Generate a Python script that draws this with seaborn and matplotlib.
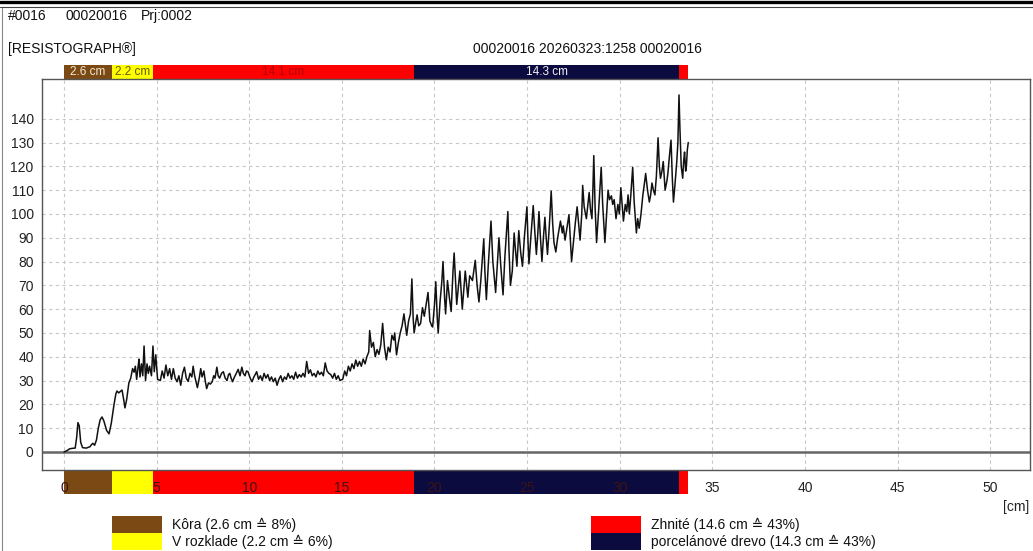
import numpy as np
import pandas as pd
import matplotlib
matplotlib.use("Agg")
import matplotlib.pyplot as plt
from matplotlib.ticker import FixedLocator
import seaborn as sns

# --- drilling profile (depth in cm, amplitude) ---
DEPTH_CM = [
    0.0, 0.15, 0.3, 0.45, 0.6, 0.68, 0.75, 0.82, 0.9, 1.0, 1.2, 1.4, 1.5, 1.56, 1.65,
    1.75, 1.85, 1.95, 2.05, 2.15, 2.3, 2.43, 2.55, 2.7, 2.8, 2.86, 2.95, 3.05, 3.13,
    3.22, 3.29, 3.38, 3.5, 3.6, 3.7, 3.78, 3.85, 3.92, 4.0, 4.05, 4.1, 4.18, 4.25,
    4.32, 4.4, 4.48, 4.55, 4.62, 4.72, 4.8, 4.87, 4.95, 5.05,
    5.2, 5.3, 5.4, 5.5, 5.6, 5.7, 5.8, 5.9, 6.0, 6.1, 6.2, 6.3, 6.4, 6.5, 6.6, 6.7,
    6.8, 6.9, 6.97, 7.05, 7.2, 7.3, 7.38, 7.45, 7.55, 7.62, 7.7, 7.8, 7.9, 8.0, 8.08,
    8.15, 8.25, 8.32, 8.4, 8.5, 8.6, 8.7, 8.8, 8.88, 8.95, 9.02, 9.1, 9.2, 9.3, 9.4,
    9.5, 9.6, 9.68, 9.77, 9.85, 9.93, 10.05, 10.15, 10.25, 10.4,
    10.5, 10.6, 10.7, 10.8, 10.9, 11.0, 11.1, 11.2, 11.3, 11.4, 11.5, 11.6, 11.7,
    11.8, 11.9, 12.0, 12.1, 12.2, 12.3, 12.4, 12.5, 12.6, 12.7, 12.8, 12.9, 13.0,
    13.1, 13.2, 13.3, 13.4, 13.5, 13.6, 13.7, 13.8, 13.9, 14.0, 14.1, 14.2, 14.3,
    14.4, 14.5, 14.6, 14.7, 14.8, 14.9, 15.05, 15.15, 15.25, 15.35, 15.45, 15.55,
    15.65, 15.75, 15.85, 15.95, 16.05, 16.15, 16.25, 16.35, 16.45, 16.5, 16.6, 16.7,
    16.8, 16.9, 17.0, 17.1, 17.2, 17.3, 17.4, 17.5, 17.6, 17.7, 17.8, 17.85, 17.95,
    18.05, 18.15, 18.25, 18.35, 18.45, 18.5, 18.6, 18.7, 18.78, 18.85, 18.9, 19.0,
    19.06, 19.15, 19.25, 19.35, 19.45, 19.55, 19.65, 19.75, 19.85, 19.9, 20.0, 20.07,
    20.15, 20.2, 20.3, 20.4, 20.46, 20.55, 20.6, 20.7, 20.8, 20.9, 21.0, 21.06, 21.15,
    21.2, 21.3, 21.37, 21.45, 21.5, 21.6, 21.66, 21.75, 21.8, 21.9, 22.05, 22.2, 22.3,
    22.4, 22.5, 22.66, 22.72, 22.8, 22.9, 23.05, 23.15, 23.3, 23.4, 23.48, 23.58, 23.7,
    23.8, 23.96, 24.02, 24.1, 24.2, 24.3, 24.38, 24.45, 24.55, 24.65, 24.75, 24.85,
    24.99, 25.05, 25.1, 25.2, 25.33, 25.42, 25.5, 25.58, 25.64, 25.72, 25.8, 25.88,
    25.96, 26.03, 26.1, 26.2, 26.3, 26.38, 26.45, 26.55, 26.65, 26.8, 26.9, 26.95,
    27.05, 27.15, 27.26, 27.33, 27.4, 27.5, 27.6, 27.7, 27.78, 27.86, 27.95, 28.0,
    28.08, 28.2, 28.28, 28.35, 28.42, 28.5, 28.55, 28.6, 28.67, 28.75, 28.85, 29.0,
    29.08, 29.2, 29.28, 29.37, 29.45, 29.55, 29.62, 29.7, 29.8, 29.9, 29.98, 30.06,
    30.13, 30.2, 30.3, 30.38, 30.45, 30.52, 30.6, 30.7, 30.78, 30.9, 30.97, 31.05,
    31.15, 31.25, 31.32, 31.4, 31.5, 31.6, 31.67, 31.74, 31.82, 31.9, 31.98, 32.07,
    32.14, 32.2, 32.28, 32.35, 32.4, 32.45, 32.55, 32.6, 32.68, 32.77, 32.84, 32.9,
    32.98, 33.08, 33.14, 33.2, 33.25, 33.32, 33.4, 33.45, 33.5, 33.56, 33.6, 33.65, 33.7,
]
AMPLITUDE = [
    0.0, 0.5, 1.3, 1.5, 1.6, 6, 12.3, 11, 4, 1.8, 1.6, 2.2, 3.2, 3.6, 2.8,
    5, 10, 13.5, 14.7, 13, 9, 7.6, 12, 20, 24.5, 25.6, 24.8, 25.5, 26,
    22, 18.5, 22, 29, 31, 35, 33.5, 36, 30.5, 36, 39, 31.5, 37, 32,
    44.5, 30, 37, 33, 36, 32, 44.5, 33.7, 40.8, 30.5,
    30, 34, 31, 36.5, 32, 35, 30.5, 35, 31, 29.5, 32, 28, 33, 35.6, 31, 29.6,
    33, 31.5, 36, 32, 27, 31, 35, 31.5, 34, 30, 26.6, 29, 28.5, 29.5, 32,
    31, 35.6, 32, 31, 33, 33.7, 31, 30, 32.5, 33, 31, 29.5, 31.5, 33, 34.7,
    32, 35.6, 33, 32, 34, 33.7, 31, 29.5, 31.5, 33.7,
    30.5, 32, 30, 33, 31, 32.5, 30, 31.5, 29.5, 31, 28, 30.5, 32,
    29.5, 31.5, 30.5, 33, 31, 32, 30.5, 33.5, 31, 32.5, 31.5, 33, 31.5,
    38, 33, 34.5, 32, 33, 31.5, 34, 32.5, 33.5, 32, 37.4, 34, 33,
    32.5, 31, 33, 30.5, 32, 30, 30.6, 34, 32, 36, 34, 37,
    35, 38.6, 36, 38, 36, 39, 37, 40, 42, 51, 44, 46,
    40, 43, 41, 45, 54, 44, 38.7, 44, 42, 49, 47, 50, 40.8,
    46, 50, 53, 58, 52, 49, 55, 58, 72.7, 56, 50, 55,
    57.6, 53, 54, 60.6, 57, 62, 67, 55, 53, 52.5, 62, 71.5,
    56, 50, 63, 72, 80, 64, 58, 72, 65, 59, 76, 83.6, 70,
    62, 70, 76, 66, 60, 70, 76, 69, 65, 74, 72, 80.5, 70,
    63, 72, 89.5, 76, 64, 78, 97, 80, 67, 80, 90, 78, 66,
    82, 101, 85, 70, 76, 92, 84, 78, 93, 84, 78, 90,
    103, 88, 79, 90, 103.5, 92, 83, 92, 101, 90, 80, 90,
    98.6, 90, 83, 95, 109.6, 96, 88, 84, 90, 97, 92, 95,
    89, 94, 99.7, 90, 80, 88, 96, 103, 96, 89, 100, 112,
    103, 98, 104, 109, 102, 98, 110, 124.5, 103, 88, 100, 119.6,
    104, 88, 98, 110, 106, 107.6, 104, 106, 98, 104, 100, 111,
    104, 97, 104, 101, 108, 100, 108, 119.6, 105, 92, 98, 94,
    100, 108, 112, 117, 110, 105, 108, 113, 110, 108, 116, 132,
    120, 115, 118, 122, 116, 110, 114, 117, 124, 131, 115, 105,
    112, 122, 130, 150, 136, 120, 115, 122, 126, 118, 120, 127, 130,
]

# --- wood zones along the drill path ---
ZONE_LENGTHS = [2.6, 2.2, 14.1, 14.3, 0.5]
ZONE_COLORS = ["#7b4a14", "#ffff00", "#ff0000", "#0b0b40", "#ff0000"]
ZONE_BAR_LABELS = ["2.6 cm", "2.2 cm", "14.1 cm", "14.3 cm", ""]
ZONE_LABEL_COLORS = ["#f4ead8", "#6a5a00", "#b00000", "#f0f0f0", "white"]

LEGEND_LABELS = [
    "Kôra (2.6 cm \u2259 8%)",
    "V rozklade (2.2 cm \u2259 6%)",
    "Zhnité (14.6 cm \u2259 43%)",
    "porcelánové drevo (14.3 cm \u2259 43%)",
]
LEGEND_COLORS = ["#7b4a14", "#ffff00", "#ff0000", "#0b0b40"]

X_MAJOR = list(range(0, 51, 5))
X_MINOR = list(range(34, 53))
Y_MAJOR = list(range(0, 141, 10))
Y_MINOR = list(range(0, 149))

W, H = 1033, 551
XLIM = (-1.19, 52.15)
YLIM = (-7.6, 156.7)
SPINE = "#555555"
FS = 10


def frac(x0, y0, x1, y1):
    # pixel box (top-left origin) -> figure fraction rect
    return [x0 / W, 1 - y1 / H, (x1 - x0) / W, (y1 - y0) / H]


def zone_bar(ax):
    starts = np.cumsum([0] + ZONE_LENGTHS[:-1])
    ax.barh(0, ZONE_LENGTHS, left=starts, height=1, color=ZONE_COLORS, linewidth=0)
    ax.set_xlim(*XLIM)
    ax.set_ylim(-0.5, 0.5)
    ax.axis("off")
    return starts


def main():
    sns.set_theme(style="white")
    plt.rcParams["font.family"] = ["Liberation Sans", "DejaVu Sans"]
    plt.rcParams["font.size"] = FS

    fig = plt.figure(figsize=(W / 100, H / 100), dpi=100)

    # overlay in pixel coords for header, frame and legend
    ov = fig.add_axes([0, 0, 1, 1])
    ov.set_xlim(0, W)
    ov.set_ylim(H, 0)
    ov.axis("off")
    ov.set_zorder(0)
    ov.plot([0, W], [1.5, 1.5], color="black", lw=2.4)
    ov.plot([0, W], [6.5, 6.5], color="#444444", lw=0.8)
    ov.plot([2, 2], [8, H], color="#888888", lw=0.8)
    ov.text(8, 16, "#0016", va="center", ha="left", color="#111111")
    ov.text(66, 16, "00020016", va="center", ha="left", color="#111111")
    ov.text(141, 16, "Prj:0002", va="center", ha="left", color="#111111")
    ov.text(8, 49, "[RESISTOGRAPH\u00ae]", va="center", ha="left", color="#111111")
    ov.text(702, 49, "00020016 20260323:1258 00020016", va="center", ha="right",
            color="#111111")
    ov.text(1016, 507, "[cm]", va="center", ha="center", color="#222222")

    # legend boxes
    for i, (lab, col) in enumerate(zip(LEGEND_LABELS, LEGEND_COLORS)):
        x0 = 112 if i < 2 else 591
        y0 = 516 if i % 2 == 0 else 533
        ov.add_patch(plt.Rectangle((x0, y0), 50, 17, color=col, lw=0))
        ov.text(x0 + 60, y0 + 8.5, lab, va="center", ha="left", color="#111111")

    # main resistance plot
    ax = fig.add_axes(frac(42, 79, 1030, 470))
    ax.set_zorder(3)
    ax.set_facecolor("white")
    df = pd.DataFrame({"depth": DEPTH_CM, "amp": AMPLITUDE})
    ax.axhline(0, color="#666666", lw=1.8, zorder=1)
    sns.lineplot(data=df, x="depth", y="amp", ax=ax, color="#111111", lw=1.1,
                 sort=False, estimator=None, zorder=3)
    ax.set_xlim(*XLIM)
    ax.set_ylim(*YLIM)
    ax.set_xlabel("")
    ax.set_ylabel("")

    ax.xaxis.set_major_locator(FixedLocator(X_MAJOR))
    ax.xaxis.set_minor_locator(FixedLocator(X_MINOR))
    ax.yaxis.set_major_locator(FixedLocator(Y_MAJOR))
    ax.yaxis.set_minor_locator(FixedLocator(Y_MINOR))
    ax.set_xticklabels([str(v) for v in X_MAJOR])
    ax.set_yticklabels([str(v) for v in Y_MAJOR])
    ax.grid(True, which="major", ls=(0, (3, 3)), color="#c8c8c8", lw=0.8)
    ax.tick_params(axis="x", which="major", direction="out", length=6, width=0.8,
                   color=SPINE, pad=2, labelsize=FS, labelcolor="#222222")
    ax.tick_params(axis="x", which="minor", direction="out", length=3.5, width=0.7,
                   color=SPINE)
    ax.tick_params(axis="y", which="major", direction="out", length=4.5, width=0.8,
                   color=SPINE, pad=1.5, labelsize=FS, labelcolor="#222222")
    ax.tick_params(axis="y", which="minor", direction="out", length=2.2, width=0.6,
                   color=SPINE)
    for tick, loc in zip(ax.xaxis.get_major_ticks(), X_MAJOR):
        if loc < 34:
            tick.tick1line.set_visible(False)
            tick.label1.set_color("#3a1414")
    for sp in ax.spines.values():
        sp.set_color(SPINE)
        sp.set_linewidth(1.0)

    # zone bars above and below the plot
    axt = fig.add_axes(frac(42, 65, 1030, 79))
    starts = zone_bar(axt)
    for s, ln, lab, tc in zip(starts, ZONE_LENGTHS, ZONE_BAR_LABELS, ZONE_LABEL_COLORS):
        if lab:
            axt.text(s + ln / 2, 0, lab, ha="center", va="center", fontsize=8.5,
                     color=tc)

    axb = fig.add_axes(frac(42, 471, 1030, 494))
    axb.set_zorder(2)
    zone_bar(axb)

    fig.savefig("out.png", dpi=100)


if __name__ == "__main__":
    main()
